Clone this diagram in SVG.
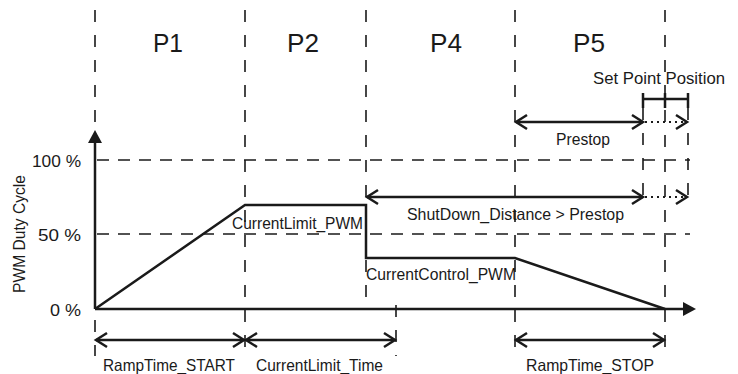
<svg xmlns="http://www.w3.org/2000/svg" width="738" height="374" viewBox="0 0 738 374">
  <style>
    text { font-family: "Liberation Sans", Arial, sans-serif; fill: #1a1a1a; }
    .phase { font-size: 26px; text-anchor: middle; }
    .lbl { font-size: 16.5px; }
    .pct { font-size: 17px; text-anchor: end; }
    .solid { stroke: #1a1a1a; stroke-width: 2.5; fill: none; }
    .vdash { stroke: #1a1a1a; stroke-width: 1.6; stroke-dasharray: 12 13; fill: none; }
    .hdash { stroke: #1a1a1a; stroke-width: 1.6; stroke-dasharray: 12 9; fill: none; }
    .dot { stroke: #1a1a1a; stroke-width: 2.2; stroke-dasharray: 2 4; fill: none; }
    .dim { stroke: #1a1a1a; stroke-width: 2.5; fill: none; }
  </style>
  <defs>
    <marker id="chev" markerUnits="userSpaceOnUse" markerWidth="16" markerHeight="18" viewBox="-13 -9 16 18" refX="0" refY="0" orient="auto-start-reverse">
      <path d="M -11 -7 L 0 0 L -11 7" fill="none" stroke="#1a1a1a" stroke-width="2.5"/>
    </marker>
  </defs>

  <!-- phase boundaries and level grid -->
  <g id="grid">
    <line class="vdash" x1="95" y1="10" x2="95" y2="130"/>
    <line class="vdash" x1="95" y1="320" x2="95" y2="356"/>
    <line class="vdash" x1="245" y1="10" x2="245" y2="356"/>
    <line class="vdash" x1="366" y1="10" x2="366" y2="309"/>
    <line class="vdash" x1="515" y1="10" x2="515" y2="356"/>
    <line class="vdash" x1="665" y1="10" x2="665" y2="356"/>
    <line class="vdash" x1="396" y1="305" x2="396" y2="356"/>
    <line class="vdash" x1="643" y1="108" x2="643" y2="206"/>
    <line class="vdash" x1="688" y1="108" x2="688" y2="206"/>
    <line class="hdash" x1="97" y1="160" x2="690" y2="160"/>
    <line class="hdash" x1="97" y1="234" x2="690" y2="234"/>
  </g>

  <!-- phase names -->
  <g id="phases">
    <text class="phase" x="168" y="52" textLength="30" lengthAdjust="spacingAndGlyphs">P1</text>
    <text class="phase" x="303" y="52" textLength="32" lengthAdjust="spacingAndGlyphs">P2</text>
    <text class="phase" x="446" y="52" textLength="32" lengthAdjust="spacingAndGlyphs">P4</text>
    <text class="phase" x="589" y="52" textLength="32" lengthAdjust="spacingAndGlyphs">P5</text>
  </g>

  <!-- axes -->
  <g id="axes">
    <line class="solid" x1="95" y1="309" x2="95" y2="140"/>
    <polygon points="95,130 88,143 102,143" fill="#1a1a1a"/>
    <line class="solid" x1="95" y1="309" x2="684" y2="309"/>
    <polygon points="696,309 683,302 683,316" fill="#1a1a1a"/>
    <text class="pct" x="81" y="167" textLength="49" lengthAdjust="spacingAndGlyphs">100 %</text>
    <text class="pct" x="81" y="241" textLength="43" lengthAdjust="spacingAndGlyphs">50 %</text>
    <text class="pct" x="81" y="316" textLength="31" lengthAdjust="spacingAndGlyphs">0 %</text>
    <text class="lbl" transform="translate(25 234) rotate(-90)" x="-59" textLength="118" lengthAdjust="spacingAndGlyphs">PWM Duty Cycle</text>
  </g>

  <!-- duty cycle profile -->
  <g id="profile">
    <polyline class="solid" points="95,309 245,205 366,205 366,258 515,258 665,309" stroke-linejoin="miter"/>
    <text class="lbl" x="232" y="229" textLength="131" lengthAdjust="spacingAndGlyphs">CurrentLimit_PWM</text>
    <text class="lbl" x="366" y="280" textLength="150" lengthAdjust="spacingAndGlyphs">CurrentControl_PWM</text>
  </g>

  <!-- dimension arrows -->
  <g id="connectors">
    <!-- set point position bracket -->
    <line class="dim" x1="643" y1="99" x2="688" y2="99"/>
    <line class="dim" x1="643" y1="93" x2="643" y2="108"/>
    <line class="dim" x1="688" y1="93" x2="688" y2="108"/>
    <line class="dim" x1="665" y1="93" x2="665" y2="108" stroke-width="1.6"/>
    <!-- prestop -->
    <line class="dim" x1="516" y1="122" x2="643" y2="122" marker-start="url(#chev)" marker-end="url(#chev)"/>
    <line class="dot" x1="645" y1="122" x2="687" y2="122" marker-end="url(#chev)"/>
    <!-- shutdown distance -->
    <line class="dim" x1="367" y1="197" x2="643" y2="197" marker-start="url(#chev)" marker-end="url(#chev)"/>
    <line class="dot" x1="645" y1="197" x2="687" y2="197" marker-end="url(#chev)"/>
    <!-- time spans -->
    <line class="dim" x1="96" y1="340" x2="244" y2="340" marker-start="url(#chev)" marker-end="url(#chev)"/>
    <line class="dim" x1="246" y1="340" x2="395" y2="340" marker-start="url(#chev)" marker-end="url(#chev)"/>
    <line class="dim" x1="516" y1="340" x2="664" y2="340" marker-start="url(#chev)" marker-end="url(#chev)"/>
  </g>

  <!-- dimension labels -->
  <g id="labels">
    <text class="lbl" x="593" y="84" textLength="132" lengthAdjust="spacingAndGlyphs">Set Point Position</text>
    <text class="lbl" x="556" y="145" textLength="54" lengthAdjust="spacingAndGlyphs">Prestop</text>
    <text class="lbl" x="407" y="220" textLength="217" lengthAdjust="spacingAndGlyphs">ShutDown_Distance &gt; Prestop</text>
    <text class="lbl" x="103" y="371" textLength="132" lengthAdjust="spacingAndGlyphs">RampTime_START</text>
    <text class="lbl" x="256" y="371" textLength="127" lengthAdjust="spacingAndGlyphs">CurrentLimit_Time</text>
    <text class="lbl" x="526" y="371" textLength="128" lengthAdjust="spacingAndGlyphs">RampTime_STOP</text>
  </g>
</svg>
